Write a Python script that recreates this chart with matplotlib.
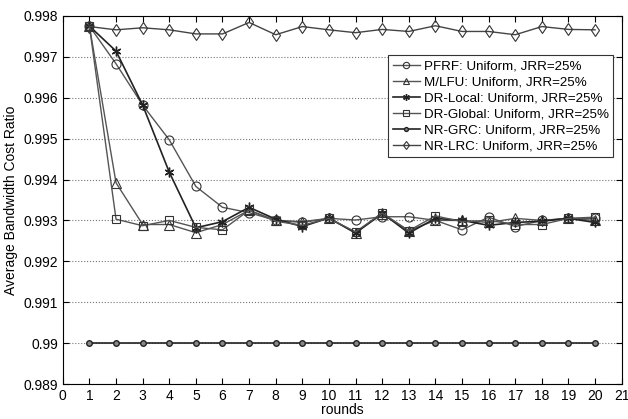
import numpy as np
import matplotlib
matplotlib.use("Agg")
from matplotlib import pyplot as plt

plt.rcParams['font.family'] = ['Liberation Sans', 'DejaVu Sans']

rounds = list(range(1, 21))

pfrf = [0.99775, 0.99683, 0.99582, 0.99497, 0.99383, 0.99332, 0.99319, 0.99300, 0.99297, 0.99305,
        0.99301, 0.99309, 0.99309, 0.99300, 0.99277, 0.99308, 0.99285, 0.99300, 0.99305, 0.99305]
mlfu = [0.99775, 0.99392, 0.99290, 0.99290, 0.99270, 0.99290, 0.99325, 0.99300, 0.99295, 0.99305,
        0.99270, 0.99315, 0.99275, 0.99300, 0.99300, 0.99295, 0.99305, 0.99300, 0.99305, 0.99300]
dr_local = [0.99775, 0.99714, 0.99582, 0.99418, 0.99282, 0.99297, 0.99332, 0.99303, 0.99285, 0.99306,
            0.99269, 0.99318, 0.99269, 0.99305, 0.99300, 0.99288, 0.99295, 0.99298, 0.99305, 0.99295]
dr_global = [0.99775, 0.99303, 0.99287, 0.99300, 0.99283, 0.99277, 0.99325, 0.99298, 0.99288, 0.99305,
             0.99272, 0.99318, 0.99275, 0.99311, 0.99297, 0.99300, 0.99290, 0.99290, 0.99305, 0.99308]
nr_grc = [0.990] * 20
nr_lrc = [0.99774, 0.99766, 0.99771, 0.99766, 0.99756, 0.99756, 0.99784, 0.99754, 0.99774, 0.99766,
          0.99759, 0.99767, 0.99762, 0.99776, 0.99762, 0.99762, 0.99754, 0.99774, 0.99767, 0.99766]

labels = ['PFRF: Uniform, JRR=25%', 'M/LFU: Uniform, JRR=25%', 'DR-Local: Uniform, JRR=25%',
          'DR-Global: Uniform, JRR=25%', 'NR-GRC: Uniform, JRR=25%', 'NR-LRC: Uniform, JRR=25%']

fig = plt.figure(figsize=(6.28, 4.19), dpi=100)
ax = fig.add_axes([0.100, 0.0835, 0.890, 0.8785])

ax.plot(rounds, pfrf, color='#555555', lw=1, marker='o', ms=6.5, mfc='none', mec='#333333', mew=0.8, label=labels[0])
ax.plot(rounds, mlfu, color='#555555', lw=1, marker='^', ms=6.5, mfc='none', mec='#333333', mew=0.8, label=labels[1])
ax.plot(rounds, dr_local, color='#222222', lw=1.2, marker=(6, 2, 0), ms=7, mec='#222222', mew=1, label=labels[2])
ax.plot(rounds, dr_global, color='#555555', lw=1, marker='s', ms=5.5, mfc='none', mec='#333333', mew=0.8, label=labels[3])
ax.plot(rounds, nr_grc, color='#222222', lw=1.2, marker='o', ms=4, mfc='#888888', mec='#222222', mew=1, label=labels[4])
ax.plot(rounds, nr_lrc, color='#444444', lw=1, marker='d', ms=6.5, mfc='none', mec='#333333', mew=0.8, label=labels[5])

ax.set_xlim(0, 21)
ax.set_ylim(0.989, 0.998)
ax.set_xticks(range(0, 22))
ax.set_yticks(np.arange(0.989, 0.9985, 0.001))
ax.set_yticklabels(['0.989', '0.99', '0.991', '0.992', '0.993', '0.994', '0.995', '0.996', '0.997', '0.998'])
ax.tick_params(direction='in', top=True, right=True, labelsize=10, length=4)
ax.yaxis.grid(True, linestyle=':', color='#777777', lw=0.8)
ax.set_xlabel('rounds', fontsize=10, labelpad=0)
ax.set_ylabel('Average Bandwidth Cost Ratio', fontsize=10)

leg = ax.legend(loc='upper right', bbox_to_anchor=(0.985, 0.893), fontsize=9.6, fancybox=False,
                edgecolor='#333333', framealpha=1, handlelength=2.0, handletextpad=0.3,
                labelspacing=0.28, borderpad=0.35, borderaxespad=0, markerscale=0.7)
leg.get_frame().set_linewidth(0.8)

fig.savefig('out.png', dpi=100)
